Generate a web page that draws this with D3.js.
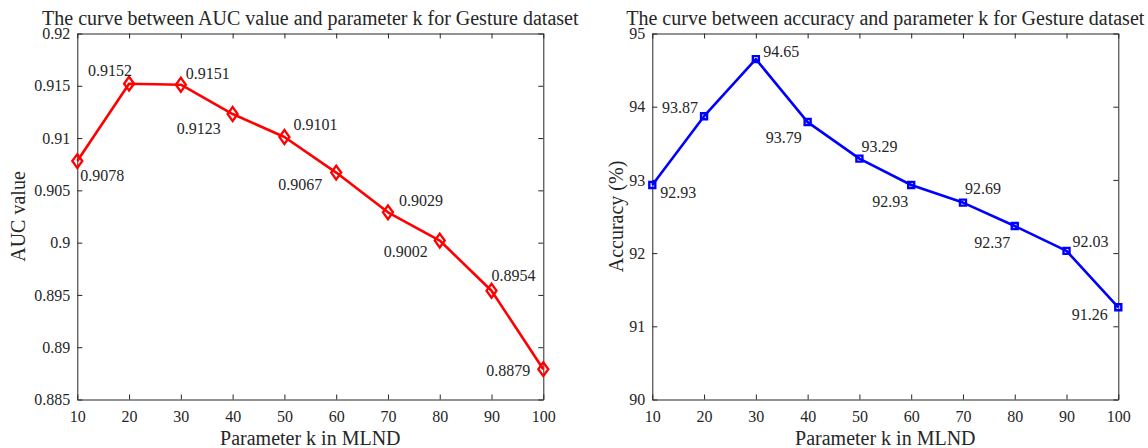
<!DOCTYPE html>
<html>
<head>
<meta charset="utf-8">
<script src="https://cdn.jsdelivr.net/npm/d3@7/dist/d3.min.js"></script>
<style>
  html, body { margin: 0; padding: 0; background: #fff; }
  svg text { font-family: 'Liberation Serif', 'Times New Roman', serif; fill: #262626; }
</style>
</head>
<body>
<div id="chart"></div>
<script>
// parameter k values (shared x for both panels)
const kValues = [10, 20, 30, 40, 50, 60, 70, 80, 90, 100];
// left panel: AUC value
const aucValues = [0.9078, 0.9152, 0.9151, 0.9123, 0.9101, 0.9067, 0.9029, 0.9002, 0.8954, 0.8879];
const aucLabels = ['0.9078', '0.9152', '0.9151', '0.9123', '0.9101', '0.9067', '0.9029', '0.9002', '0.8954', '0.8879'];
const aucTicks = [0.885, 0.89, 0.895, 0.9, 0.905, 0.91, 0.915, 0.92];
// right panel: accuracy (%)
const accValues = [92.93, 93.87, 94.65, 93.79, 93.29, 92.93, 92.69, 92.37, 92.03, 91.26];
const accLabels = ['92.93', '93.87', '94.65', '93.79', '93.29', '92.93', '92.69', '92.37', '92.03', '91.26'];
const accTicks = [90, 91, 92, 93, 94, 95];

// label offsets from the point (start of text, baseline)
const aucLabelOffsets = [[3, 20], [-41, -8], [5, -6], [-56, 19.5], [9, -7], [-58, 17.5], [11, -6], [-56, 16], [0, -10], [-57, 7]];
const accLabelOffsets = [[8, 13], [-42, -3], [7.5, -2.5], [-42, 21], [2, -7], [-39, 22], [2, -9], [-40.5, 22], [6, -4], [-46.5, 13]];

const width = 1148, height = 448;
const svg = d3.select('#chart').append('svg').attr('width', width).attr('height', height);

function drawPanel(opts) {
  const { left, right, top, bottom } = opts;
  const x = d3.scaleLinear().domain([10, 100]).range([left, right]);
  const y = d3.scaleLinear().domain(opts.yDomain).range([bottom, top]);
  const g = svg.append('g');

  // axes (inward ticks, boxed)
  const styleAxis = sel => {
    sel.attr('font-family', null);
    sel.selectAll('path, line').attr('stroke', '#262626').attr('stroke-width', 1);
    sel.selectAll('text').style('font-size', '16px').attr('fill', '#262626');
  };
  g.append('g').attr('transform', `translate(0,${bottom})`)
    .call(d3.axisBottom(x).tickValues(kValues).tickSizeInner(-5).tickSizeOuter(0).tickPadding(11))
    .call(styleAxis);
  g.append('g').attr('transform', `translate(0,${top})`)
    .call(d3.axisTop(x).tickValues(kValues).tickSizeInner(-5).tickSizeOuter(0).tickFormat(''))
    .call(styleAxis);
  g.append('g').attr('transform', `translate(${left},0)`)
    .call(d3.axisLeft(y).tickValues(opts.ticks).tickFormat(d => String(d)).tickSizeInner(-5).tickSizeOuter(0).tickPadding(7))
    .call(styleAxis);
  g.append('g').attr('transform', `translate(${right},0)`)
    .call(d3.axisRight(y).tickValues(opts.ticks).tickSizeInner(-5).tickSizeOuter(0).tickFormat(''))
    .call(styleAxis);

  // title + axis labels
  g.append('text').attr('x', (left + right) / 2).attr('y', 25).attr('text-anchor', 'middle')
    .style('font-size', '20px').text(opts.title);
  g.append('text').attr('x', (left + right) / 2).attr('y', 445).attr('text-anchor', 'middle')
    .style('font-size', '20px').text('Parameter k in MLND');
  g.append('text').attr('transform', `translate(${opts.yLabelX},${(top + bottom) / 2}) rotate(-90)`)
    .attr('text-anchor', 'middle').style('font-size', '20px').text(opts.yLabel);

  // line
  const pts = kValues.map((k, i) => [k, opts.values[i]]);
  g.append('path').datum(pts)
    .attr('fill', 'none').attr('stroke', opts.color).attr('stroke-width', 2.6)
    .attr('stroke-linejoin', 'round')
    .attr('d', d3.line().x(d => x(d[0])).y(d => y(d[1])));

  // markers
  const sym = d3.symbol().type(opts.marker).size(opts.markerSize);
  g.selectAll('.marker').data(pts).enter().append('path')
    .attr('class', 'marker')
    .attr('transform', d => `translate(${x(d[0])},${y(d[1])})${opts.marker === d3.symbolDiamond ? ' scale(1.25,1)' : ''}`)
    .attr('d', sym)
    .attr('fill', 'none').attr('stroke', opts.color).attr('stroke-width', opts.markerStroke);

  // value labels
  g.selectAll('.vlabel').data(pts).enter().append('text')
    .attr('class', 'vlabel')
    .attr('x', (d, i) => x(d[0]) + opts.offsets[i][0])
    .attr('y', (d, i) => y(d[1]) + opts.offsets[i][1])
    .style('font-size', '16px')
    .text((d, i) => opts.labels[i]);
}

drawPanel({
  left: 77.3, right: 543.3, top: 33.5, bottom: 399.5,
  yDomain: [0.885, 0.92], ticks: aucTicks, values: aucValues, labels: aucLabels,
  offsets: aucLabelOffsets, color: '#ff0000', marker: d3.symbolDiamond, markerSize: 55, markerStroke: 2,
  title: 'The curve between AUC value and parameter k for Gesture dataset',
  yLabel: 'AUC value', yLabelX: 24.5
});

drawPanel({
  left: 652.3, right: 1118.3, top: 33.5, bottom: 399.5,
  yDomain: [90, 95], ticks: accTicks, values: accValues, labels: accLabels,
  offsets: accLabelOffsets, color: '#0000ff', marker: d3.symbolSquare, markerSize: 36, markerStroke: 2.4,
  title: 'The curve between accuracy and parameter k for Gesture dataset',
  yLabel: 'Accuracy (%)', yLabelX: 623
});
</script>
</body>
</html>
